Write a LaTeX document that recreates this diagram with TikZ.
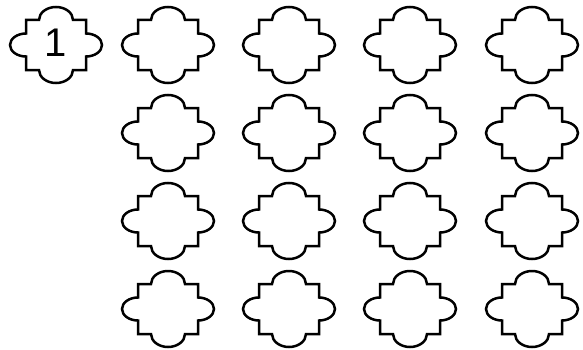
\documentclass[tikz,border=0pt]{standalone}
\usepackage{fontspec}
\setmainfont{Liberation Sans}
\tikzset{
  tileline/.style={line width=2.5pt, line join=miter, draw=black},
  pics/tile/.style={code={
    \draw[tileline] (-30,25) -- (-17,25)
      arc[start angle=180,end angle=0,x radius=17,y radius=13]
      -- (30,25) -- (30,11.5)
      arc[start angle=90,end angle=-90,x radius=16,y radius=11.5]
      -- (30,-25) -- (17,-25)
      arc[start angle=0,end angle=-180,x radius=17,y radius=13]
      -- (-30,-25) -- (-30,-11.5)
      arc[start angle=270,end angle=90,x radius=16,y radius=11.5]
      -- cycle;
  }},
  numlabel/.style={font=\fontsize{40}{40}\selectfont, inner sep=0pt, anchor=center}
}
\begin{document}
\begin{tikzpicture}[x=1pt,y=1pt]
\useasboundingbox (0,0) rectangle (583,349);
% row 1
\pic at (56,304) {tile};
\node[numlabel] (n1) at (55.5,306.5) {1};
\foreach \cx in {168,289,410,532}{
  \foreach \cy in {304,216,128,40}{
    \pic at (\cx,\cy) {tile};
  }
}
\end{tikzpicture}
\end{document}
